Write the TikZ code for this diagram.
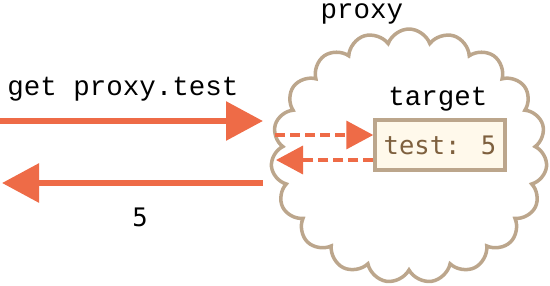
\documentclass[tikz,border=0pt]{standalone}
\usepackage{fontspec}
\setmonofont{Liberation Mono}
\newfontfamily\valuefont{DejaVu Sans Mono}
\usetikzlibrary{arrows.meta,shapes.symbols}
\definecolor{arrowred}{RGB}{238,107,71}
\definecolor{cloudtan}{RGB}{188,166,140}
\definecolor{boxfill}{RGB}{255,249,235}
\definecolor{valuebrown}{RGB}{126,96,62}
\tikzset{
  bigarrow/.style={draw=arrowred, line width=6pt,
    -{Triangle[length=37pt,width=38pt]}},
  dasharrow/.style={draw=arrowred, line width=3.5pt, dash pattern=on 10pt off 5pt,
    -{Triangle[length=27pt,width=28pt]}},
  label/.style={font=\ttfamily\fontsize{27.5}{30}\selectfont, inner sep=0pt},
}
\begin{document}
\begin{tikzpicture}[x=1pt,y=-1pt]
  \useasboundingbox (0,0) rectangle (550,285);
  % the proxy cloud
  \node[cloud, cloud puffs=19, cloud puff arc=140, aspect=1.09, cloud ignores aspect,
        draw=cloudtan, line width=3.5pt, fill=white,
        minimum width=276pt, minimum height=254pt, inner sep=0pt]
        (cloud) at (409,156) {};
  \node[label, anchor=base] (proxylbl) at (362,18) {proxy};
  % the target object
  \node[draw=cloudtan, fill=boxfill, line width=3.5pt,
        minimum width=130pt, minimum height=50pt, inner sep=0pt,
        font=\valuefont\fontsize{25.5}{28}\selectfont, text=valuebrown]
        (box) at (440,145) {test: 5};
  \node[label, anchor=base] (targetlbl) at (438,105) {target};
  % outside request and response
  \coordinate (inStart) at (0,121);
  \coordinate (inEnd) at (263,121);
  \coordinate (outStart) at (263,183);
  \coordinate (outEnd) at (2,183);
  \draw[bigarrow] (inStart) -- (inEnd);
  \draw[bigarrow] (outStart) -- (outEnd);
  \node[label, anchor=base] (getlbl) at (123,95) {get proxy.test};
  \node[font=\valuefont\fontsize{25.5}{28}\selectfont, inner sep=0pt, anchor=base]
        (fivelbl) at (140,226) {5};
  % forwarding into the target
  \coordinate (fwdStart) at (275,135);
  \coordinate (backEnd) at (276,160);
  \draw[dasharrow] (fwdStart) -- (box.west |- fwdStart);
  \draw[dasharrow] (box.west |- backEnd) -- (backEnd);
\end{tikzpicture}
\end{document}
